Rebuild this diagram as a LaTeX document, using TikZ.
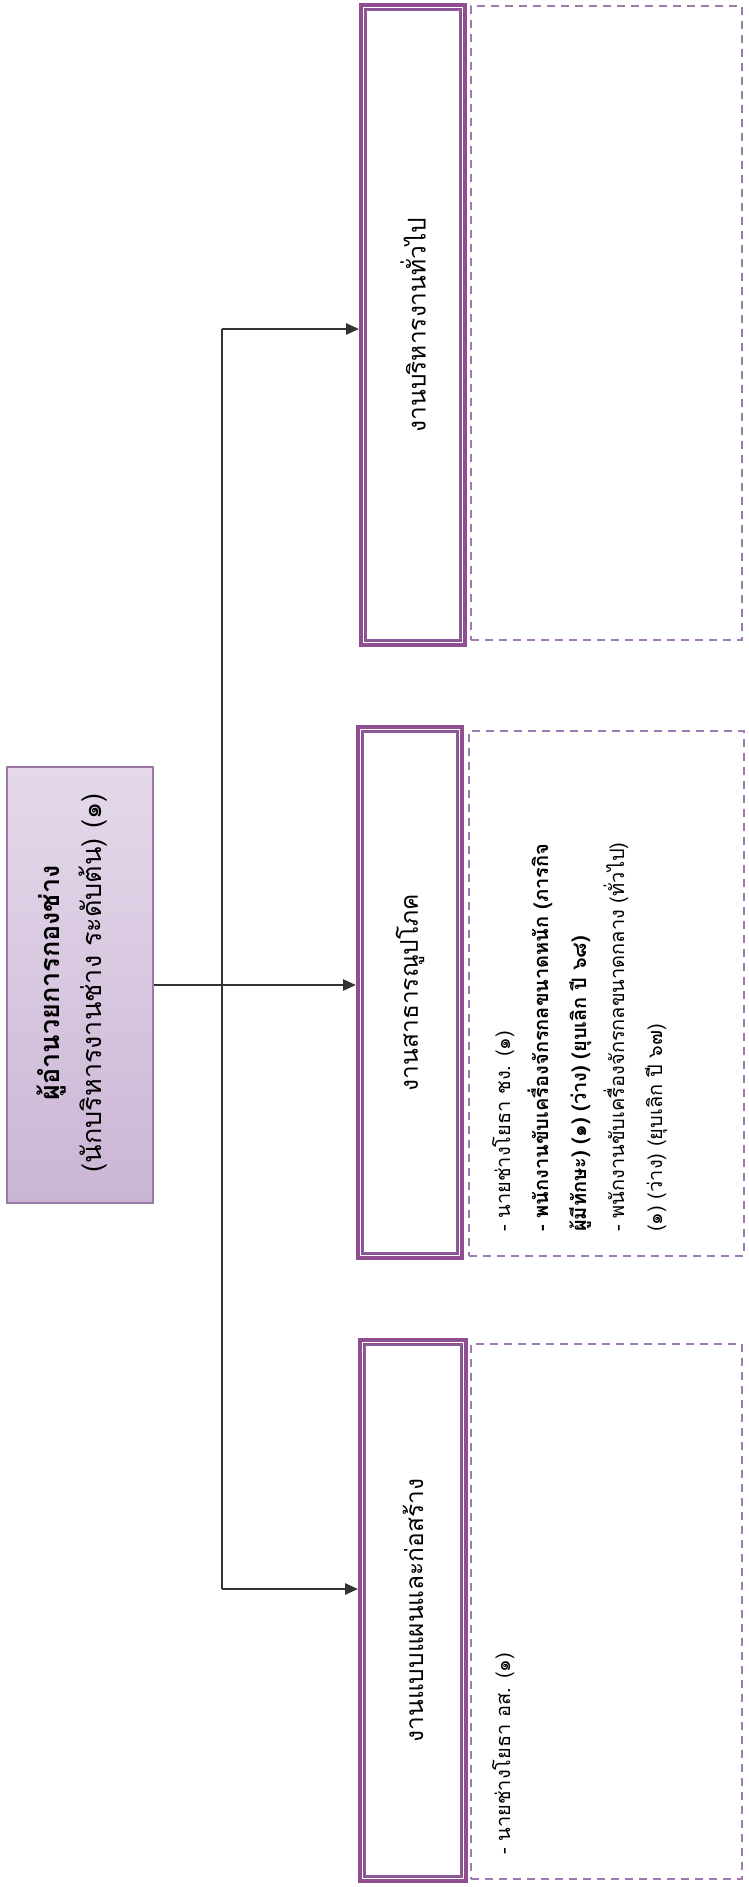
\documentclass[tikz,border=0pt]{standalone}
\usepackage{fontspec}
\newfontfamily\thai[Script=Thai]{Loma}
\usetikzlibrary{arrows.meta}
\definecolor{framepurple}{HTML}{8E4E90}
\definecolor{innerpurple}{HTML}{8A5A9A}
\definecolor{dashpurple}{HTML}{9F7AB2}
\definecolor{topfillA}{HTML}{E4D9EA}
\definecolor{topfillB}{HTML}{CBB5D5}
\definecolor{topedge}{HTML}{9A7AA8}
\definecolor{linegray}{HTML}{333333}
\tikzset{
  frame/.style={draw=framepurple, line width=7pt, inner sep=0pt, fill=white},
  frameinner/.style={draw=innerpurple, line width=1.4pt},
  dashbox/.style={draw=dashpurple, line width=1.4pt, dash pattern=on 8pt off 6pt, inner sep=0pt},
  topbox/.style={draw=topedge, line width=1.5pt, top color=topfillA, bottom color=topfillB, inner sep=0pt},
  label/.style={rotate=90, font=\thai\fontsize{24.5}{28}\selectfont, inner sep=0pt},
  conn/.style={draw=linegray, line width=2.5pt, -{Triangle[length=13pt,width=11pt]}},
  bus/.style={draw=linegray, line width=2.5pt},
}
\begin{document}
\begin{tikzpicture}[x=1pt,y=-1pt]
\useasboundingbox[fill=white] (0,0) rectangle (749,1887);
% top node
\node[topbox, minimum width=146pt, minimum height=436pt] (top) at (80,985) {};
\node[rotate=90, align=center, inner sep=0pt, font=\thai\fontsize{27}{42}\selectfont] (toptext) at (72,983)
  {\textbf{ผู้อำนวยการกองช่าง}\\(นักบริหารงานช่าง ระดับต้น) (๑)};
% frames
\node[frame, minimum width=101pt, minimum height=637pt] (f1) at (413,325) {};
\node[frame, minimum width=101pt, minimum height=528pt] (f2) at (410,992.5) {};
\node[frame, minimum width=103pt, minimum height=538pt] (f3) at (413,1610.5) {};
\foreach \f in {f1,f2,f3}{
  \draw[frameinner] ([shift={(7pt,-7pt)}]\f.north west) rectangle ([shift={(-7pt,7pt)}]\f.south east);
  \draw[draw=white, line width=1.2pt] ([shift={(4.3pt,-4.3pt)}]\f.north west) rectangle ([shift={(-4.3pt,4.3pt)}]\f.south east);
}
\node[label] (l1) at (f1.center) {งานบริหารงานทั่วไป};
\node[label] (l2) at (f2.center) {งานสาธารณูปโภค};
\node[label] (l3) at (f3.center) {งานแบบแผนและก่อสร้าง};
% dashed boxes
\node[dashbox, minimum width=271pt, minimum height=634pt] (d1) at (606.5,323) {};
\node[dashbox, minimum width=275pt, minimum height=525pt] (d2) at (606.5,993.5) {};
\node[dashbox, minimum width=271pt, minimum height=535pt] (d3) at (606.5,1611.5) {};
% texts in dashed boxes
\node[rotate=90, anchor=north west, align=left, inner sep=0pt, font=\thai\fontsize{20}{38}\selectfont] (t2) at (492,1232)
  {- นายช่างโยธา ชง. (๑)\\
   \textbf{- พนักงานขับเครื่องจักรกลขนาดหนัก (ภารกิจ}\\
   \textbf{ผู้มีทักษะ) (๑) (ว่าง) (ยุบเลิก ปี ๖๘)}\\
   - พนักงานขับเครื่องจักรกลขนาดกลาง (ทั่วไป)\\
   (๑) (ว่าง) (ยุบเลิก ปี ๖๗)};
\node[rotate=90, anchor=north west, align=left, inner sep=0pt, font=\thai\fontsize{20}{38}\selectfont] (t3) at (492,1855)
  {- นายช่างโยธา อส. (๑)};
% connectors
\coordinate (bt) at (222,329);
\coordinate (bb) at (222,1589);
\draw[bus] (bt) -- (bb);
\draw[conn] (top.east) -- (top.east -| f2.west);
\draw[conn] (bt) -- (bt -| f1.west);
\draw[conn] (bb) -- (bb -| f3.west);
\end{tikzpicture}
\end{document}
